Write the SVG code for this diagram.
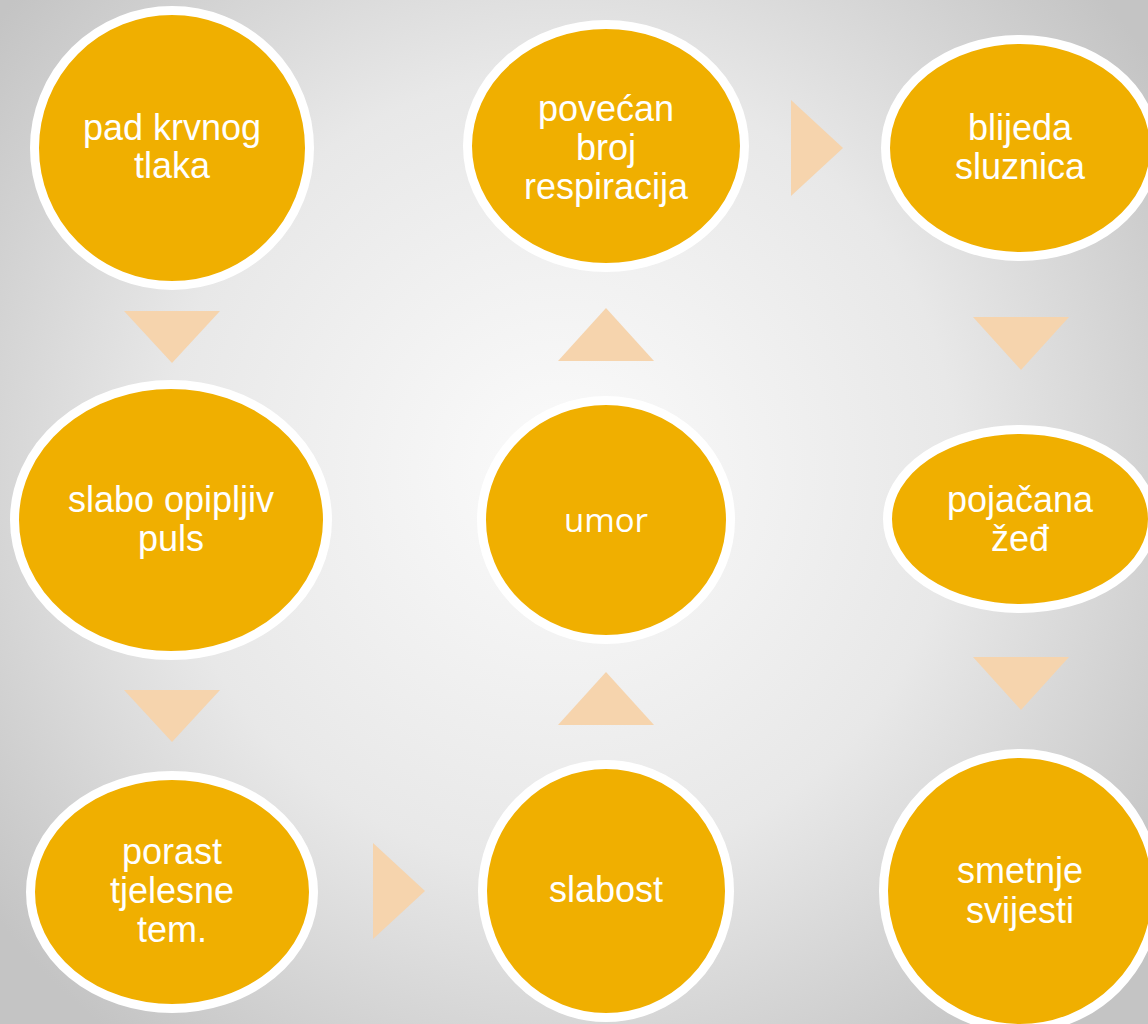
<svg xmlns="http://www.w3.org/2000/svg" width="1148" height="1024" viewBox="0 0 1148 1024">
<defs>
<radialGradient id="bg" cx="560" cy="470" r="720" gradientUnits="userSpaceOnUse">
<stop offset="0" stop-color="#FBFBFB"/>
<stop offset="0.55" stop-color="#E8E8E8"/>
<stop offset="1" stop-color="#C4C4C4"/>
</radialGradient>
<style>
.n{fill:#F0AF00;stroke:#FFFFFF;stroke-width:9}
.t{font-family:"Liberation Sans",Arial,sans-serif;font-size:36px;fill:#FFFFFF;text-anchor:middle}
.u{font-family:"Open Sans","Liberation Sans",sans-serif;font-size:33px;fill:#FFFFFF;text-anchor:middle}
.a{fill:#F6D4AD}
</style>
</defs>
<rect width="1148" height="1024" fill="url(#bg)"/>
<g id="connectors">
<polygon class="a" points="124,311 220,311 172,363"/>
<polygon class="a" points="124,690 220,690 172,742"/>
<polygon class="a" points="373,843 425,891 373,939"/>
<polygon class="a" points="558,725 654,725 606,672"/>
<polygon class="a" points="558,361 654,361 606,308"/>
<polygon class="a" points="791,100 843,148 791,196"/>
<polygon class="a" points="973,317 1069,317 1021,370"/>
<polygon class="a" points="973,657 1069,657 1021,710"/>
</g>
<g id="node1"><ellipse class="n" cx="172" cy="148" rx="137.5" ry="137.5"/><text class="t" x="172" y="140">pad krvnog</text><text class="t" x="172" y="178">tlaka</text></g>
<g id="node2"><ellipse class="n" cx="171" cy="520" rx="156.5" ry="135.5"/><text class="t" x="171" y="512">slabo opipljiv</text><text class="t" x="171" y="551">puls</text></g>
<g id="node3"><ellipse class="n" cx="172" cy="892" rx="141.5" ry="116.5"/><text class="t" x="172" y="864">porast</text><text class="t" x="172" y="903">tjelesne</text><text class="t" x="172" y="942">tem.</text></g>
<g id="node4"><ellipse class="n" cx="606" cy="891" rx="123.5" ry="126.5"/><text class="t" x="606" y="902">slabost</text></g>
<g id="node5"><ellipse class="n" cx="606" cy="520" rx="124.5" ry="119.5"/><text class="u" x="606" y="532">umor</text></g>
<g id="node6"><ellipse class="n" cx="606" cy="146" rx="138.5" ry="121.5"/><text class="t" x="606" y="121">povećan</text><text class="t" x="606" y="160">broj</text><text class="t" x="606" y="199">respiracija</text></g>
<g id="node7"><ellipse class="n" cx="1020" cy="148" rx="134.5" ry="108.5"/><text class="t" x="1020" y="140">blijeda</text><text class="t" x="1020" y="179">sluznica</text></g>
<g id="node8"><ellipse class="n" cx="1020" cy="519" rx="132.5" ry="89.5"/><text class="t" x="1020" y="512">pojačana</text><text class="t" x="1020" y="551">žeđ</text></g>
<g id="node9"><ellipse class="n" cx="1020" cy="891" rx="136.5" ry="137.5"/><text class="t" x="1020" y="883">smetnje</text><text class="t" x="1020" y="923">svijesti</text></g>
</svg>
